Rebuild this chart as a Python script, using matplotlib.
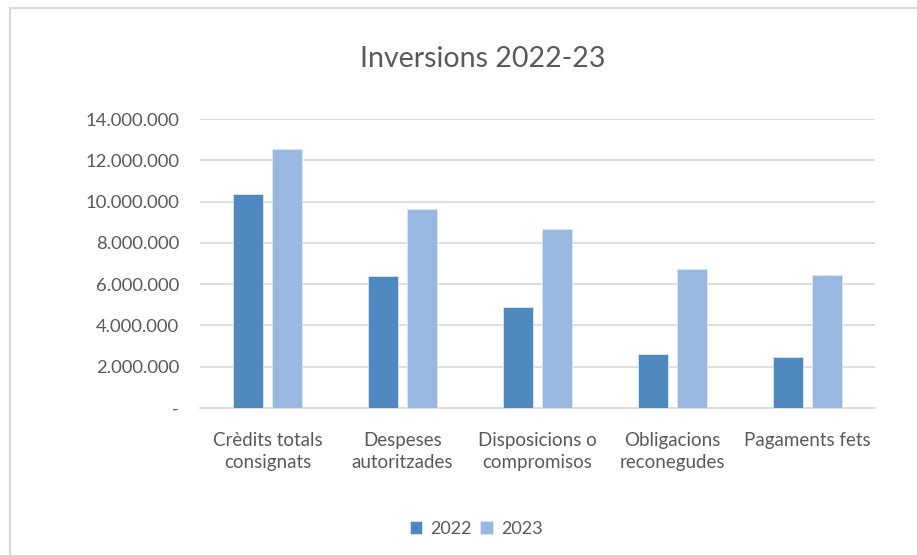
import matplotlib
matplotlib.use("Agg")
import matplotlib.pyplot as plt
import numpy as np
from matplotlib.lines import Line2D
from matplotlib.ticker import FuncFormatter

categories = ["Crèdits totals\nconsignats", "Despeses\nautoritzades", "Disposicions o\ncompromisos",
              "Obligacions\nreconegudes", "Pagaments fets"]
series_2022 = [10350000, 6380000, 4910000, 2600000, 2450000]
series_2023 = [12540000, 9620000, 8680000, 6750000, 6430000]
y_ticks = [0, 2000000, 4000000, 6000000, 8000000, 10000000, 12000000, 14000000]

plt.rcParams['font.family'] = ['Lato', 'DejaVu Sans']
txt = '#595959'

fig = plt.figure(figsize=(9.17, 5.55), dpi=100)
ax = fig.add_axes([200/917, 1-408/555, 675/917, 289/555])

x = np.arange(len(categories))
w = 0.222
off = 0.144
ax.bar(x - off, series_2022, w, color='#4F88BE', edgecolor='#DCE6F2', linewidth=0.6, label='2022', zorder=3)
ax.bar(x + off, series_2023, w, color='#98B8DF', edgecolor='#DCE6F2', linewidth=0.6, label='2023', zorder=3)

ax.set_xlim(-0.5, len(categories) - 0.5)
ax.set_ylim(0, 14000000)
ax.set_yticks(y_ticks)

def fmt(v, pos):
    if v == 0:
        return '-'
    return f"{int(v):,}".replace(',', '.')

ax.yaxis.set_major_formatter(FuncFormatter(fmt))
ax.set_xticks(x)
ax.set_xticklabels(categories, fontsize=13.5, color=txt, linespacing=1.35)
ax.tick_params(axis='y', labelsize=13.3, labelcolor=txt, length=0, pad=15)
ax.tick_params(axis='x', length=0, pad=17)
ax.grid(axis='y', color='#D9D9D9', linewidth=1.2, zorder=0)
for s in ['top', 'right', 'left']:
    ax.spines[s].set_visible(False)
ax.spines['bottom'].set_color('#D9D9D9')
ax.spines['bottom'].set_linewidth(1.2)

fig.text(483/917, 1-59/555, 'Inversions 2022-23', ha='center', va='center', fontsize=20.5, color=txt)

leg = fig.legend(loc='center', bbox_to_anchor=(476/917, 1-529/555), ncol=2, frameon=False,
                 fontsize=13, labelcolor=txt, handlelength=0.7, handleheight=0.7,
                 handletextpad=0.45, columnspacing=0.45)

fig.add_artist(Line2D([10/917, 10/917], [0, 1-8/555], transform=fig.transFigure, color='#D9D9D9', linewidth=1.5))
fig.add_artist(Line2D([10/917, 1], [1-8/555, 1-8/555], transform=fig.transFigure, color='#D9D9D9', linewidth=1.5))

fig.savefig('out.png', dpi=100, facecolor='white')
